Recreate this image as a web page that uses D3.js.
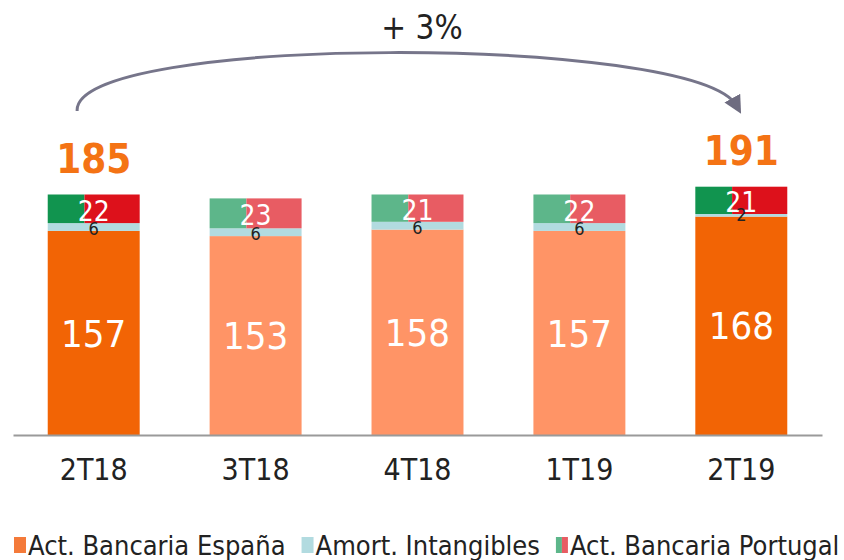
<!DOCTYPE html>
<html>
<head>
<meta charset="utf-8">
<script src="https://cdn.jsdelivr.net/npm/d3@7"></script>
<style>
  body{margin:0;background:#fff;}
  svg text{font-family:"DejaVu Sans Condensed","DejaVu Sans",sans-serif;}
</style>
</head>
<body>
<script>
// data
var categories=["2T18","3T18","4T18","1T19","2T19"]
var espana=[157,153,158,157,168]
var amort=[6,6,6,6,2]
var portugal=[22,23,21,22,21]
var totals=[185,null,null,null,191]
var strong=[true,false,false,false,true]
var legendLabels=["Act. Bancaria España","Amort. Intangibles","Act. Bancaria Portugal"]
var growthLabel="+ 3%"

var screen={width:844,height:560}
var base=435
var colors={
  orange:"#f26405",orangeLight:"#ff9466",
  blue:"#b2dbe0",
  green:"#11944f",greenLight:"#5db68a",
  red:"#dd111b",redLight:"#e85c63"
}

var svg=d3.select("body").append("svg")
  .attr("width",screen.width)
  .attr("height",screen.height)

var xScale=d3.scaleBand()
  .domain(categories)
  .range([13,822])
  .paddingInner(0.432)
  .paddingOuter(0.2145)
var yScale=d3.scaleLinear()
  .domain([0,200])
  .range([base,175])

var rows=categories.map(function(c,i){
  var e=espana[i],a=amort[i],p=portugal[i]
  return {cat:c,e:e,a:a,p:p,total:totals[i],strong:strong[i],
    y0:0,y1:e,y2:e+a,y3:e+a+p}
})
var bw=xScale.bandwidth()

var bars=svg.append("g").selectAll("g")
  .data(rows)
  .enter()
  .append("g")
  .attr("transform",function(d){return "translate("+xScale(d.cat)+",0)"})

// España
bars.append("rect")
  .attr("x",0).attr("width",bw)
  .attr("y",function(d){return yScale(d.y1)})
  .attr("height",function(d){return yScale(d.y0)-yScale(d.y1)})
  .attr("fill",function(d){return d.strong?colors.orange:colors.orangeLight})
// amort
bars.append("rect")
  .attr("x",0).attr("width",bw)
  .attr("y",function(d){return yScale(d.y2)})
  .attr("height",function(d){return yScale(d.y1)-yScale(d.y2)})
  .attr("fill",colors.blue)
// portugal, split green / red
bars.append("rect")
  .attr("x",0).attr("width",bw*0.4)
  .attr("y",function(d){return yScale(d.y3)})
  .attr("height",function(d){return yScale(d.y2)-yScale(d.y3)})
  .attr("fill",function(d){return d.strong?colors.green:colors.greenLight})
bars.append("rect")
  .attr("x",bw*0.4).attr("width",bw*0.6)
  .attr("y",function(d){return yScale(d.y3)})
  .attr("height",function(d){return yScale(d.y2)-yScale(d.y3)})
  .attr("fill",function(d){return d.strong?colors.red:colors.redLight})

// labels
bars.append("text")
  .attr("x",bw/2)
  .attr("y",function(d){return (yScale(d.y0)+yScale(d.y1))/2})
  .attr("dy","0.36em")
  .attr("text-anchor","middle")
  .attr("fill","#fff")
  .attr("font-size",38)
  .text(function(d){return d.e})
bars.append("text")
  .attr("x",bw/2)
  .attr("y",function(d){return (yScale(d.y2)+yScale(d.y3))/2+2})
  .attr("dy","0.36em")
  .attr("text-anchor","middle")
  .attr("fill","#fff")
  .attr("font-size",28)
  .text(function(d){return d.p})
bars.append("text")
  .attr("x",bw/2)
  .attr("y",function(d){return yScale(d.y1)+4})
  .attr("text-anchor","middle")
  .attr("fill","#222")
  .attr("font-size",18)
  .text(function(d){return d.a})
bars.filter(function(d){return d.total!=null})
  .append("text")
  .attr("x",bw/2)
  .attr("y",function(d){return yScale(d.y3)-22})
  .attr("text-anchor","middle")
  .attr("fill","#f47314")
  .attr("font-size",40)
  .attr("font-weight","bold")
  .text(function(d){return d.total})

// axis
var xAxis=d3.axisBottom(xScale).tickSize(0).tickPadding(24)
var ax=svg.append("g")
  .attr("transform","translate(0,"+base+")")
  .call(xAxis)
ax.select(".domain").attr("stroke","#9a9a9a").attr("stroke-width",2)
ax.selectAll("text")
  .attr("font-size",30)
  .attr("fill","#222")
  .style("font-family","'DejaVu Sans Condensed','DejaVu Sans',sans-serif")

// growth arrow
svg.append("defs").append("marker")
  .attr("id","head")
  .attr("viewBox","0 0 10 10")
  .attr("refX",5).attr("refY",5)
  .attr("markerWidth",6).attr("markerHeight",6)
  .attr("orient","auto")
  .append("path")
  .attr("d","M0,0 L10,5 L0,10 z")
  .attr("fill","#6e6c80")
var xa=xScale(categories[0])+bw*0.32
var xb=xScale(categories[categories.length-1])+bw*0.45
svg.append("path")
  .attr("d","M"+xa+",111 C"+(xa-5)+",34 "+(xb-40)+",34 "+xb+",106")
  .attr("fill","none")
  .attr("stroke","#76758a")
  .attr("stroke-width",3)
  .attr("marker-end","url(#head)")
svg.append("text")
  .attr("x",(xa+xb)/2+15)
  .attr("y",39)
  .attr("text-anchor","middle")
  .attr("fill","#222")
  .attr("font-size",33)
  .text(growthLabel)

// legend
var leg=svg.append("g").attr("transform","translate(14,545)")
var lx=0
legendLabels.forEach(function(lbl,i){
  var g=leg.append("g").attr("transform","translate("+lx+",0)")
  if(i==0){
    g.append("rect").attr("x",0).attr("y",-8).attr("width",12).attr("height",16).attr("fill","#f47a3a")
  }else if(i==1){
    g.append("rect").attr("x",0).attr("y",-8).attr("width",12).attr("height",16).attr("fill",colors.blue)
  }else{
    g.append("rect").attr("x",0).attr("y",-8).attr("width",6).attr("height",16).attr("fill",colors.greenLight)
    g.append("rect").attr("x",6).attr("y",-8).attr("width",6).attr("height",16).attr("fill",colors.redLight)
  }
  var t=g.append("text")
    .attr("x",14)
    .attr("dy","0.36em")
    .attr("fill","#222")
    .attr("font-size",27)
    .text(lbl)
  lx+=14+t.node().getComputedTextLength()+16
})
</script>
</body>
</html>
